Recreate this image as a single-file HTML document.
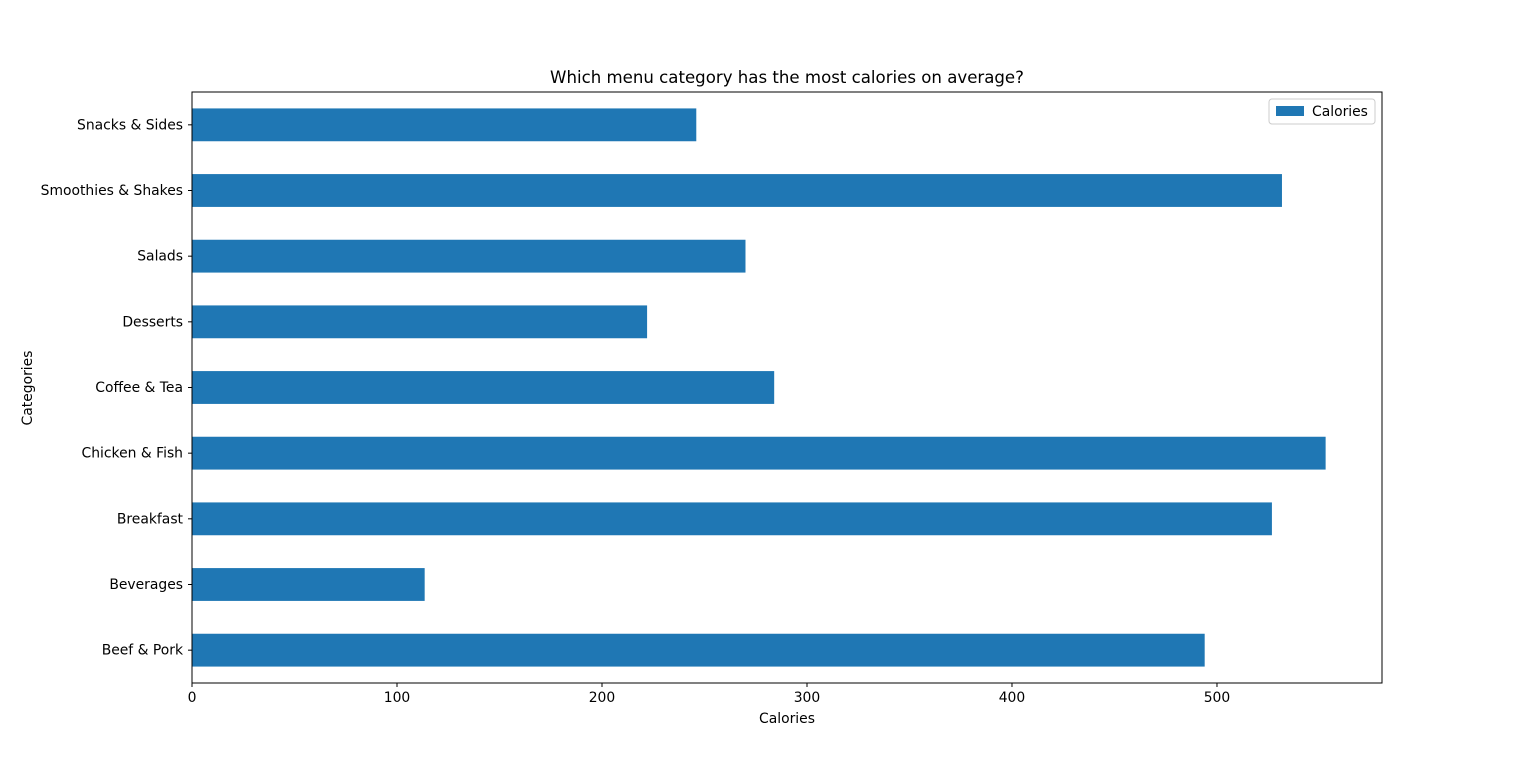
<!DOCTYPE html>
<html><head><meta charset="utf-8"><style>
body{margin:0;background:#fff;font-family:"Liberation Sans","DejaVu Sans",sans-serif;}
svg text{font-family:"DejaVu Sans","Liberation Sans",sans-serif;font-size:13.9px;fill:#000;}
</style></head><body>
<svg id="chart" width="1536" height="767">
<text x="787" y="83" text-anchor="middle" style="font-size:16.6px">Which menu category has the most calories on average?</text>
<g id="bars"></g>
<g id="xticks"></g>
<g id="yticks"></g>
<rect x="192" y="92" width="1190" height="591" fill="none" stroke="#000" stroke-width="1"/>
<text x="787" y="723" text-anchor="middle">Calories</text>
<text x="32" y="388" text-anchor="middle" transform="rotate(-90 32 388)">Categories</text>
<g>
<rect x="1269" y="99" width="106" height="25" rx="3" fill="#fff" stroke="#ccc"/>
<rect x="1276" y="106" width="28" height="10" fill="#1f77b4"/>
<text x="1312" y="116">Calories</text>
</g>
</svg>
<script>
const categories=["Beef & Pork","Beverages","Breakfast","Chicken & Fish","Coffee & Tea","Desserts","Salads","Smoothies & Shakes","Snacks & Sides"];
const calories=[494,113.5,526.8,553,284,222,270,531.7,246];
const xTicks=[0,100,200,300,400,500];
const L=192,R=1382,T=92,B=683,XMAX=580.5;
const ns="http://www.w3.org/2000/svg";
function x(v){return L+v/XMAX*(R-L);}
function yc(i){const n=categories.length;return B-(i+0.5)*(B-T)/n;}
const bh=(B-T)/categories.length*0.5;
const gb=document.getElementById('bars'),gx=document.getElementById('xticks'),gy=document.getElementById('yticks');
function mk(t,a,p){const e=document.createElementNS(ns,t);for(const k in a)e.setAttribute(k,a[k]);p.appendChild(e);return e;}
categories.forEach((c,i)=>{
 const r=mk('rect',{x:L,y:yc(i)-bh/2,width:x(calories[i])-L,height:bh,fill:'#1f77b4'},gb);
 
 
 mk('line',{x1:L-4,x2:L,y1:yc(i),y2:yc(i),stroke:'#000'},gy);
 const t=mk('text',{x:L-9,y:yc(i)+4.5,'text-anchor':'end'},gy);t.textContent=c;
 
 
});
xTicks.forEach(v=>{
 mk('line',{x1:x(v),x2:x(v),y1:B,y2:B+4,stroke:'#000'},gx);
 const t=mk('text',{x:x(v),y:B+19,'text-anchor':'middle'},gx);t.textContent=v;
 
 
});
</script>
</body></html>
